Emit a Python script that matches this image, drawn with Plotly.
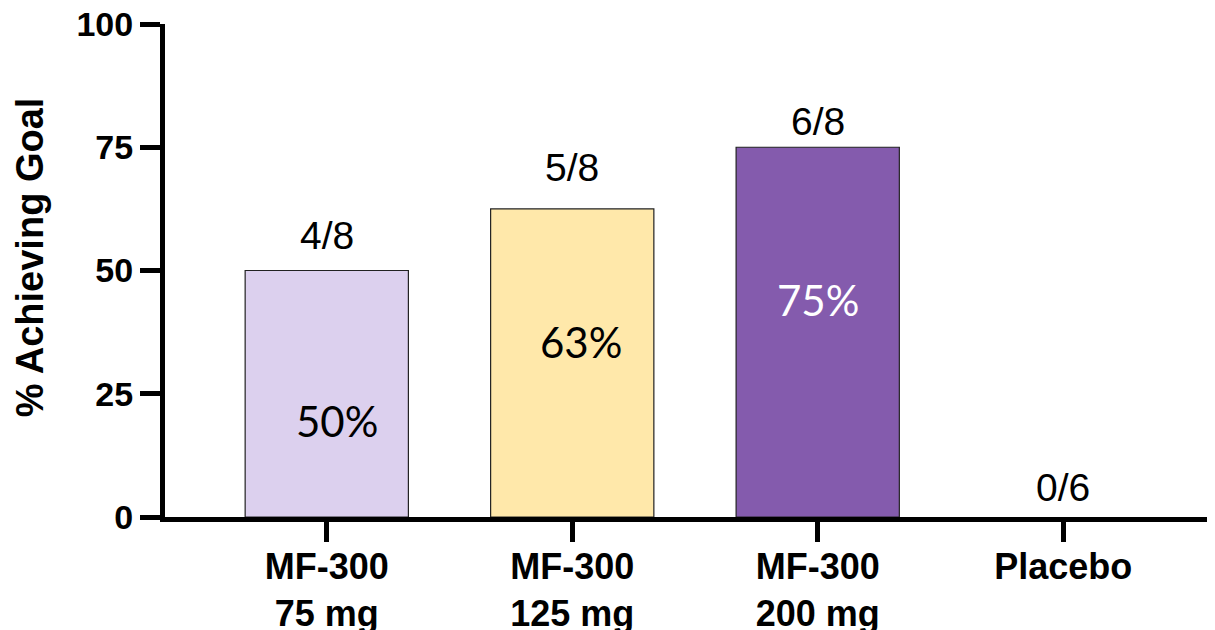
import plotly.graph_objects as go

categories = ["MF-300<br>75 mg", "MF-300<br>125 mg", "MF-300<br>200 mg", "Placebo"]
values = [50, 62.5, 75, 0]
fractions = ["4/8", "5/8", "6/8", "0/6"]
pct_labels = ["50%", "63%", "75%", ""]
bar_colors = ["#DCD0EE", "#FFE8AA", "#845BAD", "#FFFFFF"]
pct_colors = ["black", "black", "white", "black"]
y_ticks = [0, 25, 50, 75, 100]

# label placement (data units)
frac_y = [57.1, 70.9, 80.2, 6.0]
pct_y = [19.5, 35.5, 44.0, 0]
pct_dx = [0.04, 0.037, 0, 0]

fig = go.Figure()
fig.add_trace(go.Bar(
    x=list(range(len(categories))),
    y=values,
    width=0.665,
    marker=dict(color=bar_colors,
                line=dict(color="#222222", width=[1.2 if v > 0 else 0 for v in values])),
    showlegend=False,
    hoverinfo="skip",
))

for i, (fy, f) in enumerate(zip(frac_y, fractions)):
    fig.add_annotation(x=i, y=fy, text=f, showarrow=False, xanchor="center",
                       yanchor="middle",
                       font=dict(family="Liberation Sans, Arial", size=39, color="black"))

for i, (lab, py, dx, c) in enumerate(zip(pct_labels, pct_y, pct_dx, pct_colors)):
    if lab:
        fig.add_annotation(x=i + dx, y=py, text=lab, showarrow=False, xanchor="center",
                           yanchor="middle",
                           font=dict(family="Lato, Open Sans", size=42, color=c))

# y-axis title
fig.add_annotation(xref="paper", x=0, xshift=-135, yref="y", y=52.7,
                   text="% Achieving Goal", textangle=-90, showarrow=False,
                   xanchor="center", yanchor="middle",
                   font=dict(family="Liberation Sans, Arial", size=38, color="black", weight="bold"))

fig.update_layout(
    width=1215, height=630,
    margin=dict(l=157, r=0, t=16, b=121),
    paper_bgcolor="white", plot_bgcolor="white",
    xaxis=dict(
        range=[-0.659, 3.651], automargin=False,
        tickmode="array", tickvals=list(range(len(categories))), ticktext=categories,
        showline=True, linecolor="black", linewidth=5,
        ticks="outside", ticklen=20, tickwidth=5, tickcolor="black",
        ticklabelstandoff=-6,
        showgrid=False, zeroline=False,
        tickfont=dict(family="Liberation Sans, Arial", size=36, color="black", weight="bold"),
    ),
    yaxis=dict(
        range=[0, 100], automargin=False,
        tickvals=y_ticks, ticklabeloverflow="allow",
        showline=True, linecolor="black", linewidth=5,
        ticks="outside", ticklen=20, tickwidth=5, tickcolor="black",
        showgrid=False, zeroline=False,
        tickfont=dict(family="Liberation Sans, Arial", size=34, color="black", weight="bold"),
    ),
)

fig.write_html("out.html")
